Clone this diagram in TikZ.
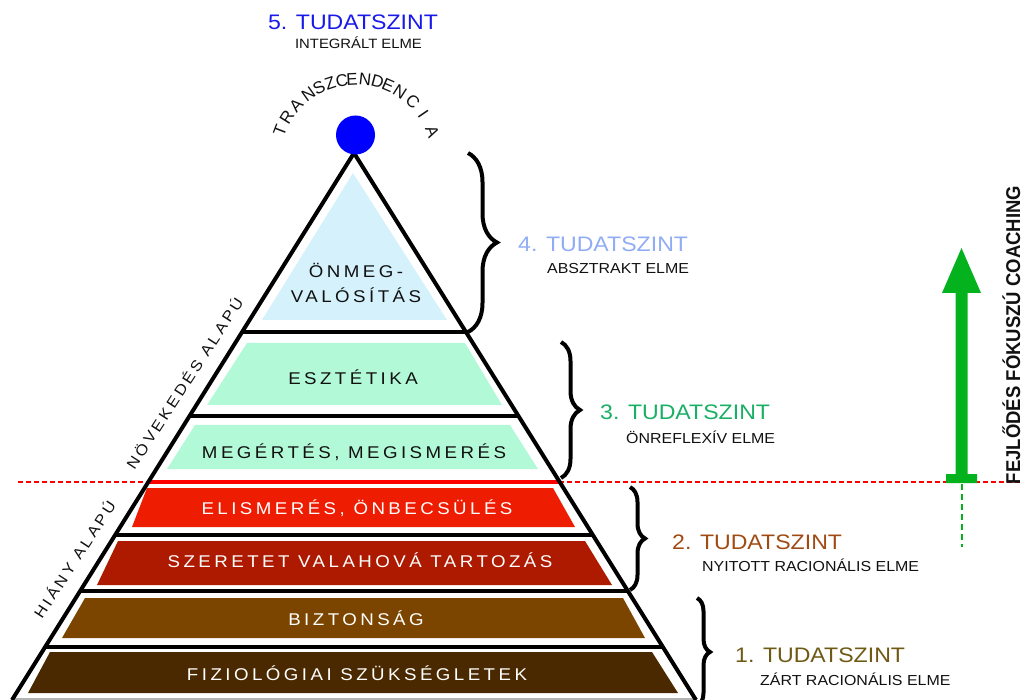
\documentclass[tikz,border=0pt]{standalone}
\usepackage{fontspec}
\setmainfont{Liberation Sans}
\newfontfamily\bandfont[LetterSpace=18.5]{Liberation Sans}
\usetikzlibrary{decorations.pathreplacing,calc}
\newcommand{\hx}[1]{\scalebox{1.1}[1]{#1}}
\definecolor{lblue}{HTML}{D5F2FC}
\definecolor{lgreen}{HTML}{B2FAD7}
\definecolor{bred}{HTML}{EE1C00}
\definecolor{dred}{HTML}{AD1A00}
\definecolor{brn}{HTML}{7B4500}
\definecolor{dbrn}{HTML}{4A2900}
\definecolor{t5}{RGB}{25,25,235}
\definecolor{t4}{RGB}{143,172,245}
\definecolor{t3}{RGB}{25,175,100}
\definecolor{t2}{RGB}{160,75,20}
\definecolor{t1}{RGB}{110,90,20}
\definecolor{ggreen}{RGB}{4,178,30}
\definecolor{dashred}{RGB}{255,0,0}
\definecolor{txt}{HTML}{111111}
\begin{document}
\begin{tikzpicture}[x=1pt,y=-1pt,
  bandtext/.style={inner sep=0, anchor=base, font=\bandfont\fontsize{17}{20}\selectfont},
  sidetext/.style={inner sep=0, anchor=center, text=txt, font=\bandfont\fontsize{15}{18}\selectfont},
  level/.style={line width=4pt, black},
  title/.style={anchor=base west, inner sep=0, font=\fontsize{21}{24}\selectfont},
  sub/.style={anchor=base west, inner sep=0, text=txt, font=\fontsize{14.5}{17}\selectfont},
  arcl/.style={inner sep=0, text=txt, font=\fontsize{17}{19}\selectfont},
  bracedeco/.style={decorate, decoration={brace, amplitude=#1}, line width=4pt, black},
  reddash/.style={draw=dashred, line width=2pt, dash pattern=on 5pt off 3pt},
  greendash/.style={draw=ggreen, line width=2pt, dash pattern=on 6pt off 4pt},
]
\useasboundingbox (0,0) rectangle (1023,700);

% bands
\fill[lblue] (353,173) -- (447,320) -- (262,320) -- cycle;
\fill[lgreen] (247,343) -- (465,343) -- (502,405) -- (207,405) -- cycle;
\fill[lgreen] (195,425) -- (510,425) -- (538,469) -- (167,469) -- cycle;
\fill[bred] (147,488) -- (553,488) -- (575,527) -- (132,527) -- cycle;
\fill[dred] (118,541) -- (585,541) -- (612,585) -- (97,585) -- cycle;
\fill[brn] (85,598) -- (623,598) -- (645,638) -- (62,638) -- cycle;
\fill[dbrn] (50,652) -- (652,652) -- (678,693) -- (28,693) -- cycle;

% red dashed level line
\coordinate (rl) at (18,481.5);
\coordinate (rpl) at (148.7,481.5);
\coordinate (rpr) at (559.3,481.5);
\coordinate (rr) at (1023,481.5);
\draw[reddash] (rl) -- (rpl);
\draw[reddash] (rpr) -- (rr);
\draw[dashred, line width=4pt] (rpl) -- (rpr);

% level lines
\draw[level] (242.1,332) -- (465.9,332);
\draw[level] (189.6,416) -- (518.4,416);
\draw[level] (115.25,535) -- (592.75,535);
\draw[level] (80.25,591) -- (627.75,591);
\draw[level] (45.25,647) -- (662.75,647);
\draw[gray!60, line width=1.2pt] (12.75,699) -- (695.25,699);

% pyramid edges
\coordinate (apex) at (354,153);
\coordinate (bl) at (12,700);
\coordinate (br) at (696,700);
\draw[level] (bl) -- (apex) -- (br);

% top circle
\fill[blue] (355.5,135) circle (19.5);

% band texts
\node[bandtext, text=txt] (tonm1) at (356,278) {\hx{ÖNMEG-}};
\node[bandtext, text=txt] (tonm2) at (356,303) {\hx{VALÓSÍTÁS}};
\node[bandtext, text=txt] (tesz) at (353,385) {\hx{ESZTÉTIKA}};
\node[bandtext, text=txt] (tmeg) at (354,458) {\hx{MEGÉRTÉS, MEGISMERÉS}};
\node[bandtext, text=white] (telis) at (357,514) {\hx{ELISMERÉS, ÖNBECSÜLÉS}};
\node[bandtext, text=white] (tszer) at (360,567) {\hx{SZERETET VALAHOVÁ TARTOZÁS}};
\node[bandtext, text=white] (tbiz) at (356,625) {\hx{BIZTONSÁG}};
\node[bandtext, text=white] (tfiz) at (357,680) {\hx{FIZIOLÓGIAI SZÜKSÉGLETEK}};

% arc text
\foreach \a/\l [count=\i] in {158.8/T,148/R,137.3/A,125.7/N,117/S,108.5/Z,100/C,92.8/E,83.6/N,74.6/D,66.8/E,57.3/N,45.8/C,34.4/I,20.6/A}
  \node[arcl, rotate=\a-90] (arc\i) at ({356+81.5*cos(\a)},{160.5-81.5*sin(\a)}) {\l};

% side labels along edges
\node[sidetext, rotate=57] (grow) at (184,383) {\hx{NÖVEKEDÉS ALAPÚ}};
\node[sidetext, rotate=57] (lack) at (74,559) {\hx{HIÁNY ALAPÚ}};

% braces
\coordinate (b4s) at (468,153); \coordinate (b4e) at (468,332);
\coordinate (b3s) at (561,342); \coordinate (b3e) at (561,478);
\coordinate (b2s) at (630,487); \coordinate (b2e) at (630,590);
\coordinate (b1s) at (697,598); \coordinate (b1e) at (697,706);
\draw[bracedeco=29pt] (b4s) -- (b4e);
\draw[bracedeco=19pt] (b3s) -- (b3e);
\draw[bracedeco=15pt] (b2s) -- (b2e);
\draw[bracedeco=13pt] (b1s) -- (b1e);

% level titles
\node[inner sep=0, anchor=base, text=t5, font=\fontsize{21}{24}\selectfont] (l5) at (353,30) {\hx{5. TUDATSZINT}};
\node[inner sep=0, anchor=base, text=txt, font=\fontsize{13.5}{16}\selectfont] (s5) at (358.5,49) {\hx{INTEGRÁLT ELME}};
\node[title, text=t4] (l4) at (518,252) {\hx{4. TUDATSZINT}};
\node[sub] (s4) at (547,274) {\hx{ABSZTRAKT ELME}};
\node[title, text=t3] (l3) at (600,420) {\hx{3. TUDATSZINT}};
\node[sub] (s3) at (626,443) {\hx{ÖNREFLEXÍV ELME}};
\node[title, text=t2] (l2) at (672,549) {\hx{2. TUDATSZINT}};
\node[sub] (s2) at (702,571) {\hx{NYITOTT RACIONÁLIS ELME}};
\node[title, text=t1] (l1) at (735,662) {\hx{1. TUDATSZINT}};
\node[sub] (s1) at (760,685) {\hx{ZÁRT RACIONÁLIS ELME}};

% green arrow
\coordinate (gtop) at (961.5,484);
\coordinate (gbot) at (961.5,547);
\draw[greendash] (gtop) -- (gbot);
\fill[ggreen] (946,483) -- (977,483) -- (977,474) -- (967.5,474) -- (967.5,293) -- (981,293)
  -- (961.5,248) -- (942,293) -- (955.5,293) -- (955.5,474) -- (946,474) -- cycle;

% vertical label
\node[inner sep=0, rotate=90, anchor=base, text=txt, font=\bfseries\fontsize{18.5}{20}\selectfont] (coach) at (1020,335) {\scalebox{1}[1.08]{FEJLŐDÉS FÓKUSZÚ COACHING}};
\end{tikzpicture}
\end{document}
